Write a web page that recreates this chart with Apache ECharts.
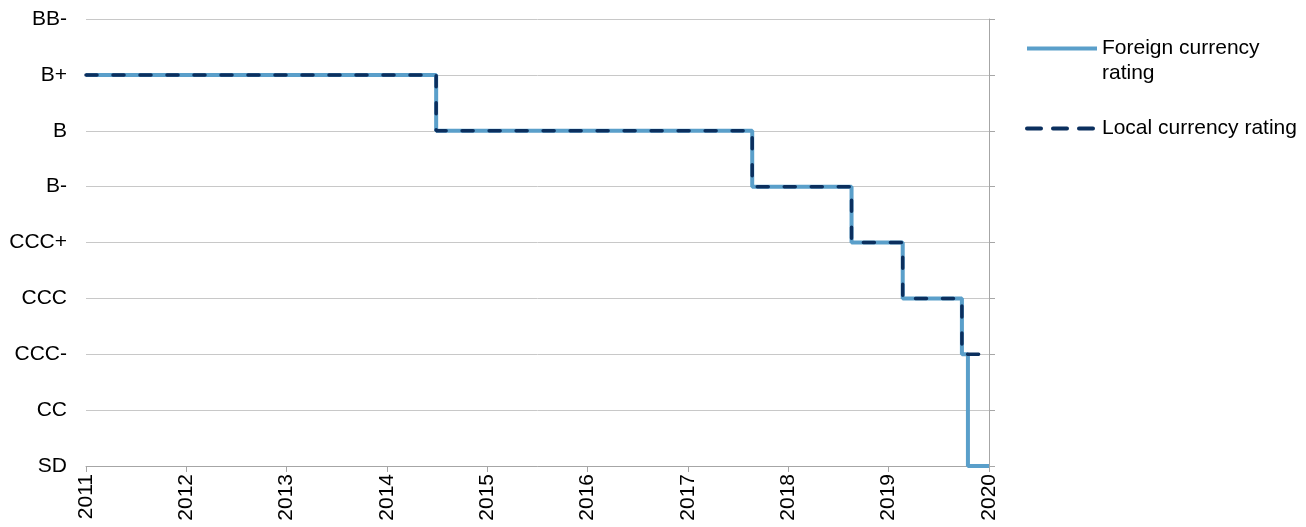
<!DOCTYPE html>
<html>
<head>
<meta charset="utf-8">
<script src="https://cdn.jsdelivr.net/npm/echarts@6/dist/echarts.min.js"></script>
<style>
html,body{margin:0;padding:0;background:#fff;}
#chart{width:1306px;height:527px;}
</style>
</head>
<body>
<div id="chart"></div>
<script>
var ratings = ['SD','CC','CCC-','CCC','CCC+','B-','B','B+','BB-'];
var yearTicks = [2011,2012,2013,2014,2015,2016,2017,2018,2019,2020];
// change dates (decimal years) and the rating from that date onward
var foreignDates = [2011, 2014.49, 2017.64, 2018.63, 2019.14, 2019.73, 2019.79, 2020];
var foreignRatings = ['B+','B','B-','CCC+','CCC','CCC-','SD','SD'];
var localDates = [2011, 2014.49, 2017.64, 2018.63, 2019.14, 2019.73, 2020];
var localRatings = ['B+','B','B-','CCC+','CCC','CCC-','CCC-'];

function pairs(d, r){ return d.map(function(x,i){ return [x, r[i]]; }); }

var FONT = 'Liberation Sans, Arial, sans-serif';
var FOREIGN = '#5a9fca', LOCAL = '#0b2f5e';
var chart = echarts.init(document.getElementById('chart'));
chart.setOption({
  animation:false,
  grid:{left:86, right:317, top:19, bottom:61},
  legend:[
    {data:['Foreign currency rating'], left:1020, top:6, orient:'vertical',
     itemWidth:70, itemHeight:4, itemGap:0,
     itemStyle:{opacity:0},
     lineStyle:{color:FOREIGN, width:4, type:'solid'},
     formatter:function(){return '\nForeign currency\nrating';},
     textStyle:{fontFamily:FONT, fontSize:21, color:'#000', lineHeight:25}},
    {data:['Local currency rating'], left:1020, top:111, orient:'vertical',
     itemWidth:70, itemHeight:4,
     itemStyle:{opacity:0},
     lineStyle:{color:LOCAL, width:4, type:[14,12], cap:'round'},
     textStyle:{fontFamily:FONT, fontSize:21, color:'#000', lineHeight:25}}
  ],
  xAxis:{type:'value', min:yearTicks[0], max:yearTicks[yearTicks.length-1], interval:1,
    axisLine:{show:true, lineStyle:{color:'#a6a6a6', width:1}},
    axisTick:{show:true, length:6, lineStyle:{color:'#a6a6a6'}},
    splitLine:{show:false},
    axisLabel:{rotate:90, margin:8, fontFamily:FONT, fontSize:21, color:'#000',
      formatter:function(v){return String(v);}}
  },
  yAxis:[
    {type:'category', data:ratings, boundaryGap:false,
     axisLine:{show:false}, axisTick:{show:false},
     splitLine:{show:true, lineStyle:{color:'#c8c8c8', width:1}},
     axisLabel:{margin:19, fontFamily:FONT, fontSize:21, color:'#000'}},
    {type:'category', data:ratings, boundaryGap:false, position:'right',
     axisLine:{show:true, lineStyle:{color:'#a6a6a6', width:1}},
     axisTick:{show:true, length:6, lineStyle:{color:'#a6a6a6'}},
     splitLine:{show:false}, axisLabel:{show:false}}
  ],
  series:[
    {name:'Foreign currency rating', type:'line', step:'start', symbol:'none',
     data:pairs(foreignDates, foreignRatings), yAxisIndex:0,
     lineStyle:{color:FOREIGN, width:4}, itemStyle:{color:FOREIGN}, z:2},
    {name:'Local currency rating', type:'line', step:'start', symbol:'none',
     data:pairs(localDates, localRatings), yAxisIndex:0,
     lineStyle:{color:LOCAL, width:3.5, type:[11,16], cap:'round'}, itemStyle:{color:LOCAL}, z:3}
  ]
});
</script>
</body>
</html>
